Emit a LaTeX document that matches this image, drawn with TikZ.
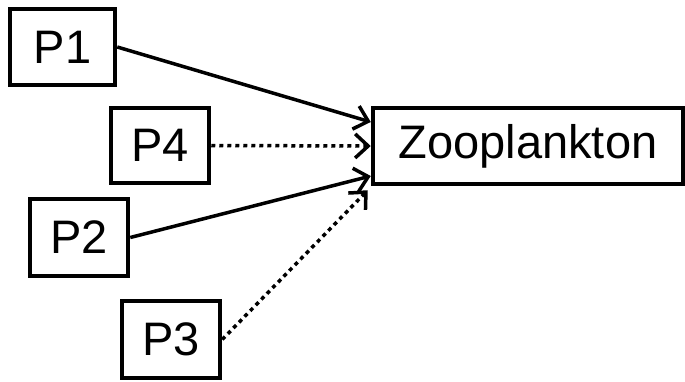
\documentclass[tikz,border=0pt]{standalone}
\usepackage{fontspec}
\setmainfont{Liberation Sans}
\usetikzlibrary{arrows.meta,calc}
\begin{document}
\begin{tikzpicture}[x=1pt,y=1pt,
  box/.style={draw,line width=4.5pt,inner sep=0pt,font=\fontsize{47}{51}\selectfont,anchor=center},
  conn/.style={line width=3.5pt,-{Straight Barb[length=13pt,width=24pt]}},
  dotconn/.style={conn,dash pattern=on 4pt off 4pt}]
\useasboundingbox (0,0) rectangle (685,-381);
\node[box,minimum width=105pt,minimum height=76pt] (p1) at (62.5,-47) {P1};
\node[box,minimum width=98pt,minimum height=75pt] (p4) at (160,-145.5) {P4};
\node[box,minimum width=98pt,minimum height=77pt] (p2) at (79,-237.5) {P2};
\node[box,minimum width=98pt,minimum height=77pt] (p3) at (171,-339.5) {P3};
\node[box,minimum width=310pt,minimum height=76pt] (zoo) at (528,-146) {Zooplankton};
\coordinate (e1) at ($(zoo.west)+(0,24)$);
\coordinate (e2) at ($(zoo.west)+(0,-30)$);
\coordinate (e3) at ($(zoo.south west)+(-3,-4)$);
\draw[conn] (p1.east) -- (e1);
\draw[dotconn] (p4.east) -- (zoo.west);
\draw[conn] (p2.east) -- (e2);
\draw[dotconn] (p3.east) -- (e3);
\end{tikzpicture}
\end{document}
